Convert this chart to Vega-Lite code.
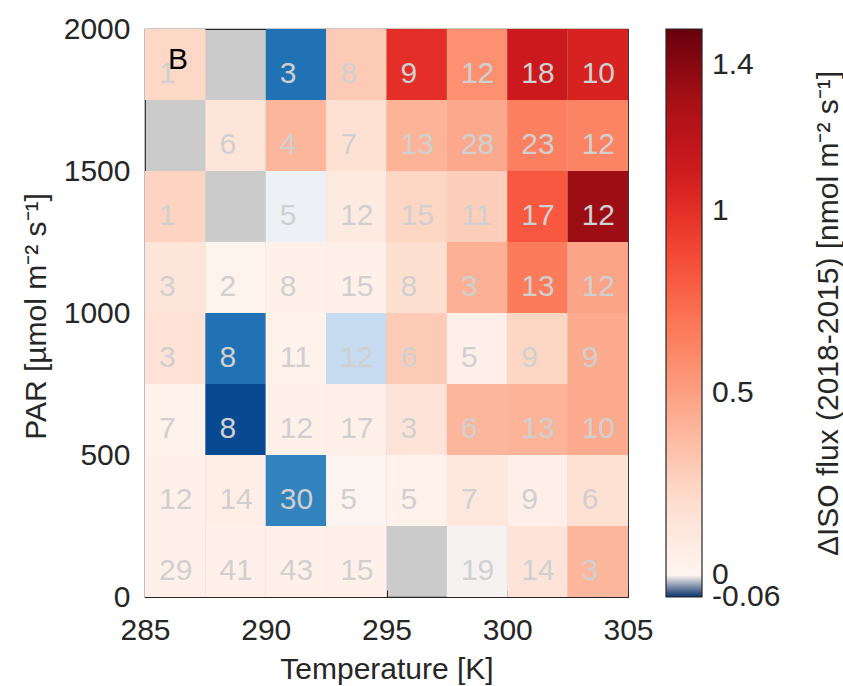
{
  "$schema": "https://vega.github.io/schema/vega-lite/v6.json",
  "width": 483,
  "height": 568,
  "autosize": {"type": "none"},
  "padding": {"left": 145, "top": 29, "right": 215, "bottom": 89},
  "background": "white",
  "config": {
    "font": "Liberation Sans",
    "view": {"stroke": "#262626", "strokeWidth": 1.2, "fill": "#cbcbcb"},
    "axis": {
      "labelFont": "Liberation Sans",
      "titleFont": "Liberation Sans",
      "labelFontSize": 30,
      "labelColor": "#262626",
      "titleFontSize": 30,
      "titleFontWeight": "normal",
      "titleColor": "#262626",
      "tickColor": "#262626",
      "tickSize": -7,
      "tickWidth": 1,
      "domain": false,
      "grid": false,
      "labelFlush": false,
      "labelOverlap": false
    }
  },
  "datasets": {
    "cells": [
      {"t0": 285, "t1": 287.5, "p0": 1750, "p1": 2000, "dflux": 0.23, "n": 1},
      {"t0": 287.5, "t1": 290, "p0": 1750, "p1": 2000, "dflux": null, "n": null},
      {"t0": 290, "t1": 292.5, "p0": 1750, "p1": 2000, "dflux": -0.045, "n": 3},
      {"t0": 292.5, "t1": 295, "p0": 1750, "p1": 2000, "dflux": 0.30, "n": 8},
      {"t0": 295, "t1": 297.5, "p0": 1750, "p1": 2000, "dflux": 1.0, "n": 9},
      {"t0": 297.5, "t1": 300, "p0": 1750, "p1": 2000, "dflux": 0.57, "n": 12},
      {"t0": 300, "t1": 302.5, "p0": 1750, "p1": 2000, "dflux": 1.12, "n": 18},
      {"t0": 302.5, "t1": 305, "p0": 1750, "p1": 2000, "dflux": 1.07, "n": 10},

      {"t0": 285, "t1": 287.5, "p0": 1500, "p1": 1750, "dflux": null, "n": null},
      {"t0": 287.5, "t1": 290, "p0": 1500, "p1": 1750, "dflux": 0.14, "n": 6},
      {"t0": 290, "t1": 292.5, "p0": 1500, "p1": 1750, "dflux": 0.40, "n": 4},
      {"t0": 292.5, "t1": 295, "p0": 1500, "p1": 1750, "dflux": 0.18, "n": 7},
      {"t0": 295, "t1": 297.5, "p0": 1500, "p1": 1750, "dflux": 0.41, "n": 13},
      {"t0": 297.5, "t1": 300, "p0": 1500, "p1": 1750, "dflux": 0.46, "n": 28},
      {"t0": 300, "t1": 302.5, "p0": 1500, "p1": 1750, "dflux": 0.65, "n": 23},
      {"t0": 302.5, "t1": 305, "p0": 1500, "p1": 1750, "dflux": 0.63, "n": 12},

      {"t0": 285, "t1": 287.5, "p0": 1250, "p1": 1500, "dflux": 0.25, "n": 1},
      {"t0": 287.5, "t1": 290, "p0": 1250, "p1": 1500, "dflux": null, "n": null},
      {"t0": 290, "t1": 292.5, "p0": 1250, "p1": 1500, "dflux": -0.004, "n": 5},
      {"t0": 292.5, "t1": 295, "p0": 1250, "p1": 1500, "dflux": 0.10, "n": 12},
      {"t0": 295, "t1": 297.5, "p0": 1250, "p1": 1500, "dflux": 0.24, "n": 15},
      {"t0": 297.5, "t1": 300, "p0": 1250, "p1": 1500, "dflux": 0.28, "n": 11},
      {"t0": 300, "t1": 302.5, "p0": 1250, "p1": 1500, "dflux": 0.82, "n": 17},
      {"t0": 302.5, "t1": 305, "p0": 1250, "p1": 1500, "dflux": 1.34, "n": 12},

      {"t0": 285, "t1": 287.5, "p0": 1000, "p1": 1250, "dflux": 0.14, "n": 3},
      {"t0": 287.5, "t1": 290, "p0": 1000, "p1": 1250, "dflux": 0.02, "n": 2},
      {"t0": 290, "t1": 292.5, "p0": 1000, "p1": 1250, "dflux": 0.04, "n": 8},
      {"t0": 292.5, "t1": 295, "p0": 1000, "p1": 1250, "dflux": 0.04, "n": 15},
      {"t0": 295, "t1": 297.5, "p0": 1000, "p1": 1250, "dflux": 0.19, "n": 8},
      {"t0": 297.5, "t1": 300, "p0": 1000, "p1": 1250, "dflux": 0.42, "n": 3},
      {"t0": 300, "t1": 302.5, "p0": 1000, "p1": 1250, "dflux": 0.67, "n": 13},
      {"t0": 302.5, "t1": 305, "p0": 1000, "p1": 1250, "dflux": 0.48, "n": 12},

      {"t0": 285, "t1": 287.5, "p0": 750, "p1": 1000, "dflux": 0.17, "n": 3},
      {"t0": 287.5, "t1": 290, "p0": 750, "p1": 1000, "dflux": -0.045, "n": 8},
      {"t0": 290, "t1": 292.5, "p0": 750, "p1": 1000, "dflux": 0.03, "n": 11},
      {"t0": 292.5, "t1": 295, "p0": 750, "p1": 1000, "dflux": -0.015, "n": 12},
      {"t0": 295, "t1": 297.5, "p0": 750, "p1": 1000, "dflux": 0.30, "n": 6},
      {"t0": 297.5, "t1": 300, "p0": 750, "p1": 1000, "dflux": 0.05, "n": 5},
      {"t0": 300, "t1": 302.5, "p0": 750, "p1": 1000, "dflux": 0.24, "n": 9},
      {"t0": 302.5, "t1": 305, "p0": 750, "p1": 1000, "dflux": 0.45, "n": 9},

      {"t0": 285, "t1": 287.5, "p0": 500, "p1": 750, "dflux": 0.03, "n": 7},
      {"t0": 287.5, "t1": 290, "p0": 500, "p1": 750, "dflux": -0.054, "n": 8},
      {"t0": 290, "t1": 292.5, "p0": 500, "p1": 750, "dflux": 0.035, "n": 12},
      {"t0": 292.5, "t1": 295, "p0": 500, "p1": 750, "dflux": 0.04, "n": 17},
      {"t0": 295, "t1": 297.5, "p0": 500, "p1": 750, "dflux": 0.15, "n": 3},
      {"t0": 297.5, "t1": 300, "p0": 500, "p1": 750, "dflux": 0.40, "n": 6},
      {"t0": 300, "t1": 302.5, "p0": 500, "p1": 750, "dflux": 0.41, "n": 13},
      {"t0": 302.5, "t1": 305, "p0": 500, "p1": 750, "dflux": 0.45, "n": 10},

      {"t0": 285, "t1": 287.5, "p0": 250, "p1": 500, "dflux": 0.035, "n": 12},
      {"t0": 287.5, "t1": 290, "p0": 250, "p1": 500, "dflux": 0.06, "n": 14},
      {"t0": 290, "t1": 292.5, "p0": 250, "p1": 500, "dflux": -0.041, "n": 30},
      {"t0": 292.5, "t1": 295, "p0": 250, "p1": 500, "dflux": -0.001, "n": 5},
      {"t0": 295, "t1": 297.5, "p0": 250, "p1": 500, "dflux": 0.03, "n": 5},
      {"t0": 297.5, "t1": 300, "p0": 250, "p1": 500, "dflux": 0.12, "n": 7},
      {"t0": 300, "t1": 302.5, "p0": 250, "p1": 500, "dflux": 0.05, "n": 9},
      {"t0": 302.5, "t1": 305, "p0": 250, "p1": 500, "dflux": 0.18, "n": 6},

      {"t0": 285, "t1": 287.5, "p0": 0, "p1": 250, "dflux": 0.04, "n": 29},
      {"t0": 287.5, "t1": 290, "p0": 0, "p1": 250, "dflux": 0.045, "n": 41},
      {"t0": 290, "t1": 292.5, "p0": 0, "p1": 250, "dflux": 0.045, "n": 43},
      {"t0": 292.5, "t1": 295, "p0": 0, "p1": 250, "dflux": 0.045, "n": 15},
      {"t0": 295, "t1": 297.5, "p0": 0, "p1": 250, "dflux": null, "n": null},
      {"t0": 297.5, "t1": 300, "p0": 0, "p1": 250, "dflux": -0.002, "n": 19},
      {"t0": 300, "t1": 302.5, "p0": 0, "p1": 250, "dflux": 0.15, "n": 14},
      {"t0": 302.5, "t1": 305, "p0": 0, "p1": 250, "dflux": 0.40, "n": 3}
    ],
    "panel": [
      {"label": "B", "t": 286.37, "p": 1891}
    ]
  },
  "layer": [
    {
      "data": {"name": "cells"},
      "transform": [{"filter": "isValid(datum.dflux)"}],
      "mark": {"type": "rect"},
      "encoding": {
        "x": {
          "field": "t0", "type": "quantitative",
          "scale": {"domain": [285, 305], "nice": false, "zero": false},
          "axis": {
            "values": [285, 290, 295, 300, 305],
            "format": "d",
            "title": "Temperature [K]",
            "labelPadding": 25,
            "titleY": 81,
            "titleBaseline": "alphabetic"
          }
        },
        "x2": {"field": "t1"},
        "y": {
          "field": "p0", "type": "quantitative",
          "scale": {"domain": [0, 2000], "nice": false, "zero": false},
          "axis": {
            "values": [0, 500, 1000, 1500, 2000],
            "format": "d",
            "title": "PAR [µmol m⁻² s⁻¹]",
            "labelPadding": 22,
            "titleAngle": -90,
            "titleX": -100,
            "titleY": 287,
            "titleAlign": "center",
            "titleBaseline": "alphabetic"
          }
        },
        "y2": {"field": "p1"},
        "color": {
          "field": "dflux", "type": "quantitative",
          "scale": {
            "domain": [-0.06, -0.0525, -0.045, -0.0375, -0.03, -0.0225, -0.015, -0.0075, 0, 0.1875, 0.375, 0.5625, 0.75, 0.9375, 1.125, 1.3125, 1.5],
            "range": ["#08306b", "#08519c", "#2171b5", "#4292c6", "#6baed6", "#9ecae1", "#c6dbef", "#deebf7", "#fff5f0", "#fee0d2", "#fcbba1", "#fc9272", "#fb6a4a", "#ef3b2c", "#cb181d", "#a50f15", "#67000d"],
            "interpolate": "rgb"
          },
          "legend": {
            "orient": "none",
            "legendX": 521,
            "legendY": 0,
            "title": null,
            "direction": "vertical",
            "padding": 0,
            "gradientLength": 568,
            "gradientThickness": 36,
            "gradientStrokeColor": "#262626",
            "gradientStrokeWidth": 1.2,
            "values": [-0.06, 0, 0.5, 1, 1.4],
            "labelFont": "Liberation Sans",
            "labelFontSize": 30,
            "labelColor": "#262626",
            "labelOffset": 10,
            "labelOverlap": false,
            "labelExpr": "replace(format(datum.value, '~g'), '\u2212', '-')",
            "encode": {
              "labels": {
                "update": {
                  "baseline": {"value": "middle"}
                }
              }
            }
          }
        }
      }
    },
    {
      "data": {"name": "cells"},
      "transform": [{"filter": "isValid(datum.n)"}],
      "mark": {"type": "text", "align": "left", "baseline": "middle", "dx": 14, "dy": -26, "fontSize": 30, "font": "Liberation Sans", "color": "#d0d0d0"},
      "encoding": {
        "x": {"field": "t0", "type": "quantitative"},
        "y": {
          "field": "p0", "type": "quantitative",
          "axis": {
            "orient": "right",
            "title": "ΔISO flux (2018-2015) [nmol m⁻² s⁻¹]",
            "labels": false,
            "ticks": false,
            "titleAngle": -90,
            "titleX": 209,
            "titleY": 284,
            "titleAlign": "center",
            "titleBaseline": "alphabetic"
          }
        },
        "text": {"field": "n", "type": "quantitative"}
      }
    },
    {
      "data": {"name": "panel"},
      "mark": {"type": "text", "fontSize": 30, "font": "Liberation Sans", "color": "#000000", "align": "center", "baseline": "middle"},
      "encoding": {
        "x": {"field": "t", "type": "quantitative"},
        "y": {"field": "p", "type": "quantitative", "axis": null},
        "text": {"field": "label"}
      }
    }
  ],
  "resolve": {"axis": {"y": "independent"}}
}
